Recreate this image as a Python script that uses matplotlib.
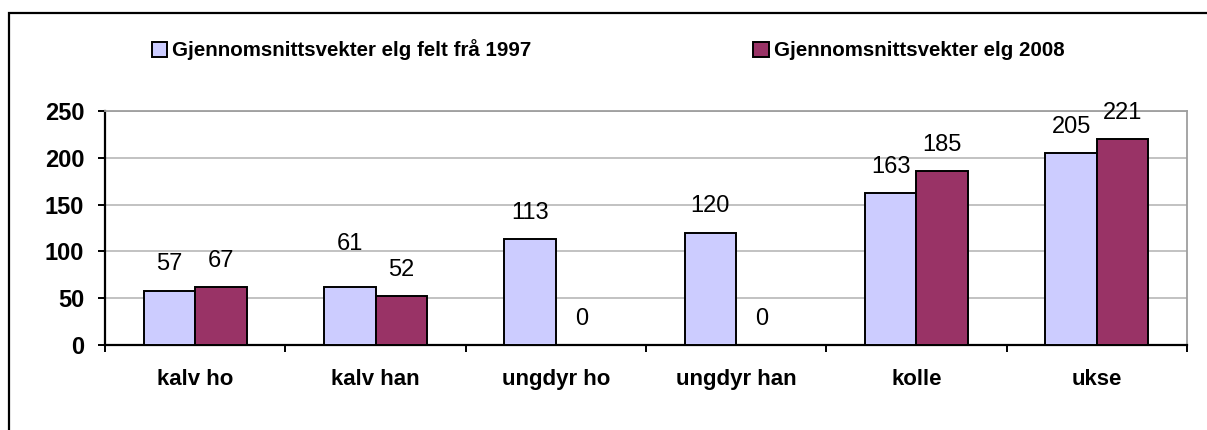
import numpy as np
import matplotlib.pyplot as plt
from matplotlib.patches import Rectangle

# Data
categories = ['kalv ho', 'kalv han', 'ungdyr ho', 'ungdyr han', 'kolle', 'ukse']
heights_1997 = [58, 62, 113, 120, 162, 205]
heights_2008 = [62, 52, 0, 0, 186, 220]
labels_1997 = ['57', '61', '113', '120', '163', '205']
labels_2008 = ['67', '52', '0', '0', '185', '221']
series_names = ['Gjennomsnittsvekter elg felt frå 1997', 'Gjennomsnittsvekter elg 2008']

# extra label lift (points) where Excel moved a label by hand
lift_1997 = [0, 12, 0, 0, 0, 0]
lift_2008 = [0, 0, 0, 0, 0, 0]

plt.rcParams['font.family'] = ['Liberation Sans', 'DejaVu Sans']

W, H = 1207, 430
fig = plt.figure(figsize=(W / 100, H / 100), dpi=100)
ax = fig.add_axes([105 / W, 1 - 345 / H, (1187 - 105) / W, (345 - 111) / H])

x = np.arange(len(categories))
bw = 1 / 3.5
c1 = '#CCCCFF'
c2 = '#993366'
b1 = ax.bar(x - bw / 2, heights_1997, bw, color=c1, edgecolor='black', linewidth=1.4,
            label=series_names[0], zorder=3)
b2 = ax.bar(x + bw / 2, heights_2008, bw, color=c2, edgecolor='black', linewidth=1.4,
            label=series_names[1], zorder=3)

for bars, labs, lifts in [(b1, labels_1997, lift_1997), (b2, labels_2008, lift_2008)]:
    for r, lab, lf in zip(bars, labs, lifts):
        ax.annotate(lab, (r.get_x() + r.get_width() / 2, r.get_height()),
                    xytext=(0, 19 + lf), textcoords='offset points',
                    ha='center', va='center', fontsize=17, zorder=4)

ax.set_xlim(-0.5, len(categories) - 0.5)
ax.set_ylim(0, 250)
ax.set_yticks(range(0, 251, 50))
ax.yaxis.grid(True, color='#BDBDBD', linewidth=1.3, zorder=0)
ax.set_xticks(x)
ax.set_xticklabels(categories, fontsize=16, fontweight='bold')
ax.set_xticks(np.arange(-0.5, len(categories)), minor=True)
ax.tick_params(axis='x', which='major', length=0, pad=17)
ax.tick_params(axis='x', which='minor', length=5, width=1.4, direction='out')
ax.tick_params(axis='y', length=5, width=1.4, pad=10, labelsize=17)
for t in ax.get_yticklabels():
    t.set_fontweight('bold')

for s in ['left', 'bottom']:
    ax.spines[s].set_color('black')
    ax.spines[s].set_linewidth(1.6)
for s in ['top', 'right']:
    ax.spines[s].set_color('#9E9E9E')
    ax.spines[s].set_linewidth(1.3)

fig.legend(handles=[b1, b2], loc='center', bbox_to_anchor=(608 / W, 1 - 50 / H), ncol=2,
           frameon=False, prop={'size': 14.8, 'weight': 'bold'}, handlelength=0.75,
           handleheight=0.75, handletextpad=0.25, columnspacing=10.8)

# outer chart border (cut off at right and bottom)
fig.patches.append(Rectangle((9 / W, -0.1), 1.2, 1.1 - 13 / H, transform=fig.transFigure,
                             fill=False, edgecolor='black', linewidth=1.6))

fig.savefig('out.png', dpi=100)
